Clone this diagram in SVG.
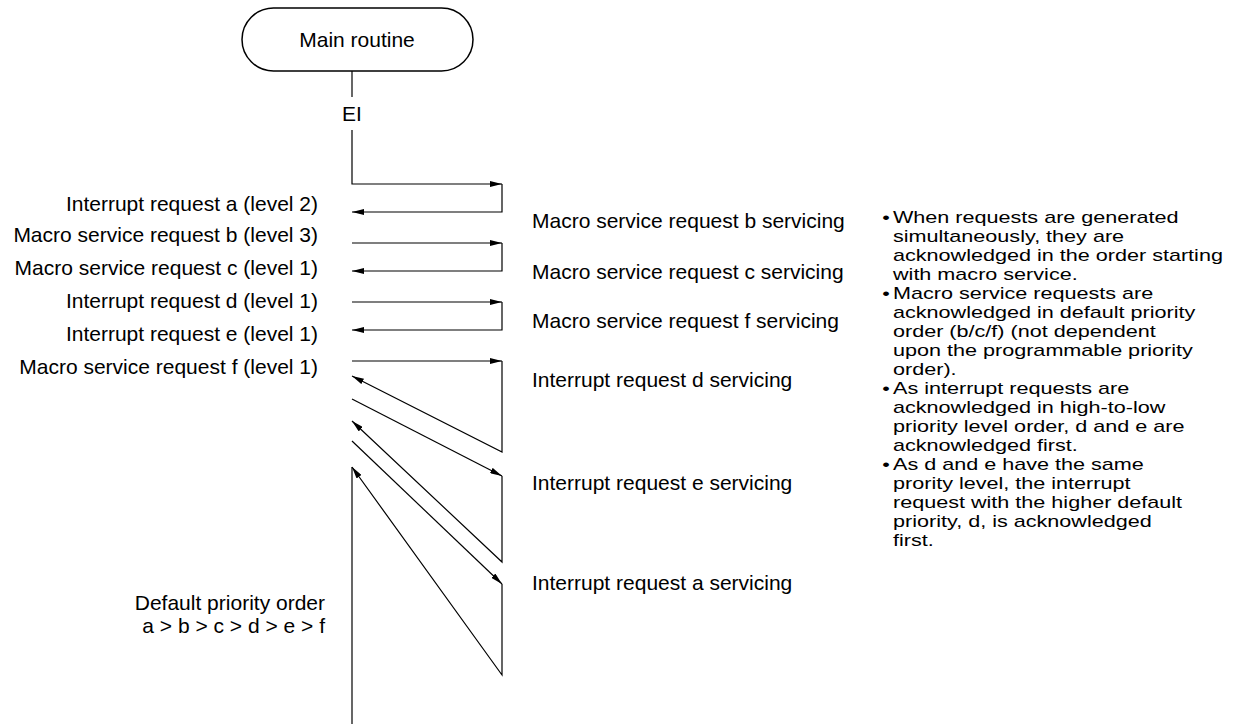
<svg xmlns="http://www.w3.org/2000/svg" width="1237" height="724" viewBox="0 0 1237 724">
<style>
text{font-family:"Liberation Sans",Arial,sans-serif;font-size:21px;fill:#000}
.l{text-anchor:end}
.c{text-anchor:middle}
.n text{font-size:17px}
.ln{fill:none;stroke:#000;stroke-width:1.2}
</style>
<defs>
<marker id="ar" viewBox="0 0 12 6" refX="12" refY="3" markerWidth="12" markerHeight="6" markerUnits="userSpaceOnUse" orient="auto">
<path d="M0,0 L12,3 L0,6 z" fill="#000"/>
</marker>
</defs>
<rect width="1237" height="724" fill="#fff"/>
<g id="main">
<rect x="242" y="8" width="231" height="63" rx="31.5" fill="#fff" stroke="#000" stroke-width="1.5"/>
<text class="c" x="357" y="47">Main routine</text>
</g>
<g id="ei"><text class="c" x="352" y="121">EI</text></g>
<g id="labels-left">
<text class="l" x="318" y="211">Interrupt request a (level 2)</text>
<text class="l" x="318" y="242">Macro service request b (level 3)</text>
<text class="l" x="318" y="275">Macro service request c (level 1)</text>
<text class="l" x="318" y="308">Interrupt request d (level 1)</text>
<text class="l" x="318" y="341">Interrupt request e (level 1)</text>
<text class="l" x="318" y="374">Macro service request f (level 1)</text>
</g>
<g id="labels-mid">
<text x="532" y="228">Macro service request b servicing</text>
<text x="532" y="279">Macro service request c servicing</text>
<text x="532" y="328">Macro service request f servicing</text>
<text x="532" y="387">Interrupt request d servicing</text>
<text x="532" y="490">Interrupt request e servicing</text>
<text x="532" y="590">Interrupt request a servicing</text>
</g>
<g id="default-order">
<text class="l" x="325" y="610">Default priority order</text>
<text class="l" x="325" y="633">a &gt; b &gt; c &gt; d &gt; e &gt; f</text>
</g>
<g id="notes" class="n" transform="translate(893,0) scale(1.27,1)">
<text x="-8.5" y="223">•</text><text x="0" y="223">When requests are generated</text>
<text x="0" y="242">simultaneously, they are</text>
<text x="0" y="261">acknowledged in the order starting</text>
<text x="0" y="280">with macro service.</text>
<text x="-8.5" y="299">•</text><text x="0" y="299">Macro service requests are</text>
<text x="0" y="318">acknowledged in default priority</text>
<text x="0" y="337">order (b/c/f) (not dependent</text>
<text x="0" y="356">upon the programmable priority</text>
<text x="0" y="375">order).</text>
<text x="-8.5" y="394">•</text><text x="0" y="394">As interrupt requests are</text>
<text x="0" y="413">acknowledged in high-to-low</text>
<text x="0" y="432">priority level order, d and e are</text>
<text x="0" y="451">acknowledged first.</text>
<text x="-8.5" y="470">•</text><text x="0" y="470">As d and e have the same</text>
<text x="0" y="489">prority level, the interrupt</text>
<text x="0" y="508">request with the higher default</text>
<text x="0" y="527">priority, d, is acknowledged</text>
<text x="0" y="546">first.</text>
</g>
<g id="connectors" class="ln">
<path class="ln" d="M352,71 V97"/>
<path class="ln" d="M352,130 V184 H502" marker-end="url(#ar)"/>
<path class="ln" d="M502,184 V212 H352" marker-end="url(#ar)"/>
<path class="ln" d="M352,243 H502" marker-end="url(#ar)"/>
<path class="ln" d="M502,243 V271 H352" marker-end="url(#ar)"/>
<path class="ln" d="M352,302 H502" marker-end="url(#ar)"/>
<path class="ln" d="M502,302 V330 H352" marker-end="url(#ar)"/>
<path class="ln" d="M352,361 H502" marker-end="url(#ar)"/>
<path class="ln" d="M502,361 V452 L352,376" marker-end="url(#ar)"/>
<path class="ln" d="M352,399 L502,476" marker-end="url(#ar)"/>
<path class="ln" d="M502,476 V562 L352,421" marker-end="url(#ar)"/>
<path class="ln" d="M352,441 L502,584" marker-end="url(#ar)"/>
<path class="ln" d="M502,584 V675 L352,467" marker-end="url(#ar)"/>
<path class="ln" d="M352,467 V724"/>
</g>
</svg>
